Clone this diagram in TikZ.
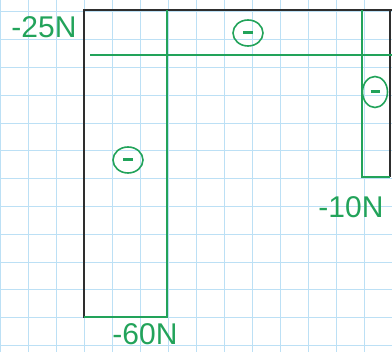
\documentclass[tikz,border=0pt]{standalone}
\usepackage{fontspec}
\setmainfont{Liberation Sans}
\usetikzlibrary{shapes.geometric}
\definecolor{gridblue}{HTML}{BCE0F5}
\definecolor{forcegreen}{HTML}{22A35A}
\definecolor{framegray}{HTML}{2E2E2E}
\begin{document}
\begin{tikzpicture}[x=1pt,y=-1pt,
    frameline/.style={line width=2pt, framegray},
    forceline/.style={line width=2.2pt, forcegreen},
    signmark/.style={draw=forcegreen, line width=1.6pt, ellipse,
        inner sep=0pt, minimum width=30pt, minimum height=26pt},
    forcelabel/.style={text=forcegreen, font=\fontsize{30}{30}\selectfont, inner sep=0pt}
    ]

    \useasboundingbox (0,0) rectangle (392,352);

    % Graph paper
    \foreach \i in {0,...,14} {
        \draw[gridblue, line width=1pt] (28*\i,0) -- (28*\i,352);
    }
    \foreach \j in {0,...,12} {
        \draw[gridblue, line width=1pt] (0,12+27.8*\j) -- (392,12+27.8*\j);
    }

    % Frame (left column, beam, right column)
    \draw[frameline] (84,318) -- (84,10) -- (392,10);
    \draw[frameline] (390,10) -- (390,177);

    % Axial force diagram
    \draw[forceline] (84,317) -- (167,317) -- (167,10); % left column
    \draw[forceline] (90,55) -- (392,55);                % beam
    \draw[forceline] (362,10) -- (362,177) -- (390,177); % right column

    % Signs
    \node[signmark] (beamsign) at (248,33) {\color{forcegreen}\rule{10pt}{3pt}};
    \node[signmark, minimum width=25pt, minimum height=31pt] (rightsign) at (375,92) {\color{forcegreen}\rule{9pt}{3pt}};
    \node[signmark] (leftsign) at (128,160) {\color{forcegreen}\rule{10pt}{3pt}};

    % Values
    \node[forcelabel] (beamval) at (44,27) {-25N};
    \node[forcelabel] (rightval) at (351,207) {-10N};
    \node[forcelabel] (leftval) at (145,334) {-60N};

\end{tikzpicture}
\end{document}
